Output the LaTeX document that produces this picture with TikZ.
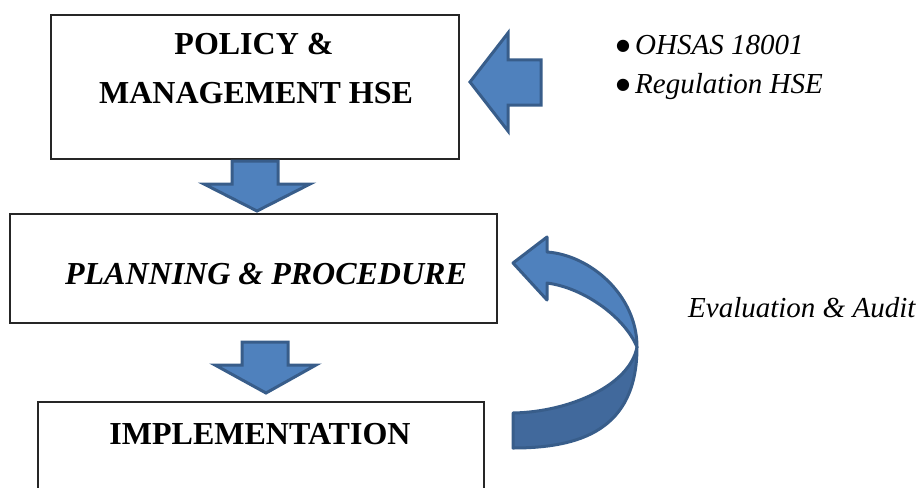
\documentclass[tikz,border=0pt]{standalone}
\usepackage{fontspec}
\setmainfont{Liberation Serif}
\newfontfamily\dejavu{DejaVu Sans}
\definecolor{afill}{HTML}{4F81BD}
\definecolor{aline}{HTML}{385D8A}
\definecolor{adark}{HTML}{41699C}
\newcommand{\mybullet}{\raisebox{4pt}{\dejavu\fontsize{16}{16}\selectfont ●}}
\begin{document}
\begin{tikzpicture}[x=1pt,y=-1pt,
  box/.style={draw=black!85, line width=1.3pt, inner sep=0pt, outer sep=0pt},
  blockarrow/.style={fill=afill, draw=aline, line width=3pt, line join=miter},
  bigtxt/.style={font=\fontsize{32}{38}\selectfont\bfseries, anchor=base, inner sep=0pt},
  bigit/.style={font=\fontsize{32}{38}\selectfont\bfseries\itshape, anchor=base, inner sep=0pt},
  smalltxt/.style={font=\fontsize{29}{34}\selectfont, anchor=base west, inner sep=0pt}]
\useasboundingbox (0,0) rectangle (920,487);
\clip (0,0) rectangle (920,487);

% boxes
\node[box, minimum width=408pt, minimum height=144pt] (policy) at (255,87) {};
\node[box, minimum width=487pt, minimum height=109pt] (planning) at (253.5,268.5) {};
\node[box, minimum width=446pt, minimum height=93pt] (impl) at (261,448.5) {};

% texts
\node[bigtxt] (t1) at (254,55) {POLICY \&};
\node[bigtxt] (t2) at (256,103) {MANAGEMENT HSE};
\node[bigit] (t3) at (266,284) {PLANNING \& PROCEDURE};
\node[bigtxt] (t4) at (260,444) {IMPLEMENTATION};
\node[smalltxt] (b1) at (616,55) {\mybullet\hspace{5pt}\textit{OHSAS 18001}};
\node[smalltxt] (b2) at (616,93) {\mybullet\hspace{5pt}\textit{Regulation HSE}};
\node[smalltxt] (ev) at (688,317) {\textit{Evaluation \& Audit}};

% down arrow 1
\draw[blockarrow] (257,211) -- (204,184) -- (232,184) -- (232,161) -- (278,161) -- (278,184) -- (310,184) -- cycle;
% down arrow 2
\draw[blockarrow] (266,393) -- (215,365) -- (242,365) -- (242,342) -- (288,342) -- (288,365) -- (316,365) -- cycle;
% left arrow
\draw[blockarrow] (470,82) -- (508,33) -- (508,60) -- (541,60) -- (541,105) -- (508,105) -- (508,131) -- cycle;

% curved arrow: lower (darker) band
\draw[fill=adark, draw=aline, line width=3pt, line join=round]
  (513,413) .. controls (570,412) and (630,385) .. (637,347)
  .. controls (637,430) and (580,448) .. (513,448) -- cycle;
% curved arrow: upper band with head
\draw[fill=afill, draw=aline, line width=3pt, line join=round]
  (513,263) -- (547,237) -- (547,252)
  .. controls (590,255) and (637,295) .. (637,347)
  .. controls (625,318) and (585,288) .. (547,283)
  -- (547,300) -- cycle;
\end{tikzpicture}
\end{document}
